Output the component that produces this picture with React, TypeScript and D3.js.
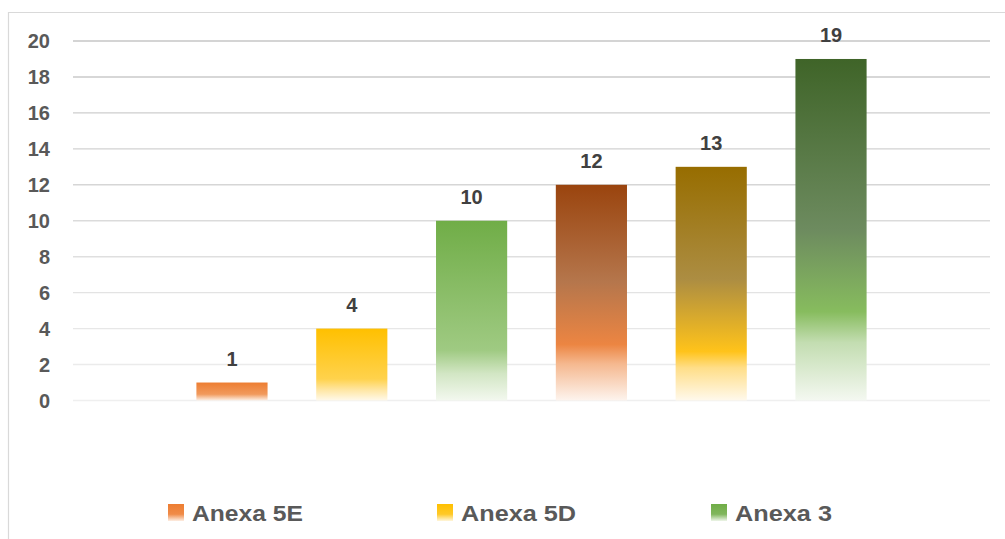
import React from "react";
import * as d3 from "d3";

// Values shown above each column, left to right
const barKeys = ["c1", "c2", "c3", "c4", "c5", "c6"];
const barValues = [1, 4, 10, 12, 13, 19];

// Legend entries
const legendLabels = ["Anexa 5E", "Anexa 5D", "Anexa 3"];

// Value axis ticks
const yTicks = [0, 2, 4, 6, 8, 10, 12, 14, 16, 18, 20];

// Vertical gradient per column: [offset, colour]
const barGradients: [number, string][][] = [
  [[0, "#ED7D31"], [0.65, "#F19A5D"], [1, "#FDF0E6"]],
  [[0, "#FFC000"], [0.7, "#FFD24C"], [0.85, "#FFE6A2"], [1, "#FFF9EA"]],
  [[0, "#70AD47"], [0.72, "#9FCA82"], [0.85, "#D2E6C4"], [1, "#F3F8EF"]],
  [[0, "#9A440E"], [0.45, "#B5764C"], [0.74, "#EC8542"], [0.83, "#F5B88F"], [1, "#FDF4EE"]],
  [[0, "#976D00"], [0.48, "#AC8D42"], [0.79, "#FFC31A"], [0.86, "#FFDE88"], [1, "#FFF9EC"]],
  [[0, "#3F6428"], [0.5, "#6D8B5F"], [0.74, "#87BC5E"], [0.83, "#C3DDB1"], [1, "#F4F8F1"]],
];

const legendGradients: [number, string][][] = [
  [[0, "#ED7D31"], [0.6, "#F08B48"], [1, "#FDEEE3"]],
  [[0, "#FFC000"], [0.6, "#FFC928"], [1, "#FFF6DC"]],
  [[0, "#70AD47"], [0.6, "#80B65C"], [1, "#EEF5E9"]],
];

const W = 1005;
const H = 539;

export default function App() {
  const y = d3.scaleLinear().domain([0, 20]).range([400.5, 41]);
  const x = d3
    .scaleBand<string>()
    .domain(barKeys)
    .range([73, 990])
    .paddingInner(0.406)
    .paddingOuter(1.03);

  const gridColor = d3
    .scaleLinear<string>()
    .domain([20, 0])
    .range(["#c6c6c6", "#efefef"]);

  const legendX = [168, 437, 711];
  const legendTextW = [111, 115, 97];
  const font = "'Liberation Sans', Arial, sans-serif";

  return (
    <svg
      width={W}
      height={H}
      style={{ position: "absolute", left: 0, top: 0, background: "#fff" }}
      fontFamily={font}
    >
      <defs>
        {barGradients.map((stops, i) => (
          <linearGradient key={i} id={`bar-grad-${i}`} x1="0" y1="0" x2="0" y2="1">
            {stops.map(([o, c], j) => (
              <stop key={j} offset={o} stopColor={c} />
            ))}
          </linearGradient>
        ))}
        {legendGradients.map((stops, i) => (
          <linearGradient key={i} id={`leg-grad-${i}`} x1="0" y1="0" x2="0" y2="1">
            {stops.map(([o, c], j) => (
              <stop key={j} offset={o} stopColor={c} />
            ))}
          </linearGradient>
        ))}
      </defs>

      {/* chart frame */}
      <line x1={8.5} x2={8.5} y1={12} y2={H} stroke="#d9d9d9" strokeWidth={1.2} />
      <line x1={8} x2={W} y1={12.5} y2={12.5} stroke="#d9d9d9" strokeWidth={1.2} />

      {/* gridlines and tick labels */}
      {yTicks.map((t) => (
        <g key={t}>
          <line
            x1={73}
            x2={990}
            y1={y(t)}
            y2={y(t)}
            stroke={gridColor(t)}
            strokeWidth={1.4}
          />
          <text
            x={50}
            y={y(t)}
            dy="0.36em"
            textAnchor="end"
            fontSize={20}
            fontWeight="bold"
            fill="#595959"
          >
            {t}
          </text>
        </g>
      ))}

      {/* columns */}
      {barKeys.map((k, i) => (
        <rect
          key={k}
          x={x(k)}
          y={y(barValues[i])}
          width={x.bandwidth()}
          height={y(0) - y(barValues[i])}
          fill={`url(#bar-grad-${i})`}
        />
      ))}

      {/* value labels */}
      {barKeys.map((k, i) => (
        <text
          key={k}
          x={(x(k) as number) + x.bandwidth() / 2}
          y={y(barValues[i]) - 17}
          textAnchor="middle"
          fontSize={20}
          fontWeight="bold"
          fill="#404040"
        >
          {barValues[i]}
        </text>
      ))}

      {/* legend */}
      {legendLabels.map((label, i) => (
        <g key={label}>
          <rect
            x={legendX[i]}
            y={504}
            width={16}
            height={17}
            fill={`url(#leg-grad-${i})`}
          />
          <text
            x={legendX[i] + 24}
            y={521}
            fontSize={22}
            fontWeight="bold"
            fill="#595959"
            textLength={legendTextW[i]}
            lengthAdjust="spacingAndGlyphs"
          >
            {label}
          </text>
        </g>
      ))}
    </svg>
  );
}
